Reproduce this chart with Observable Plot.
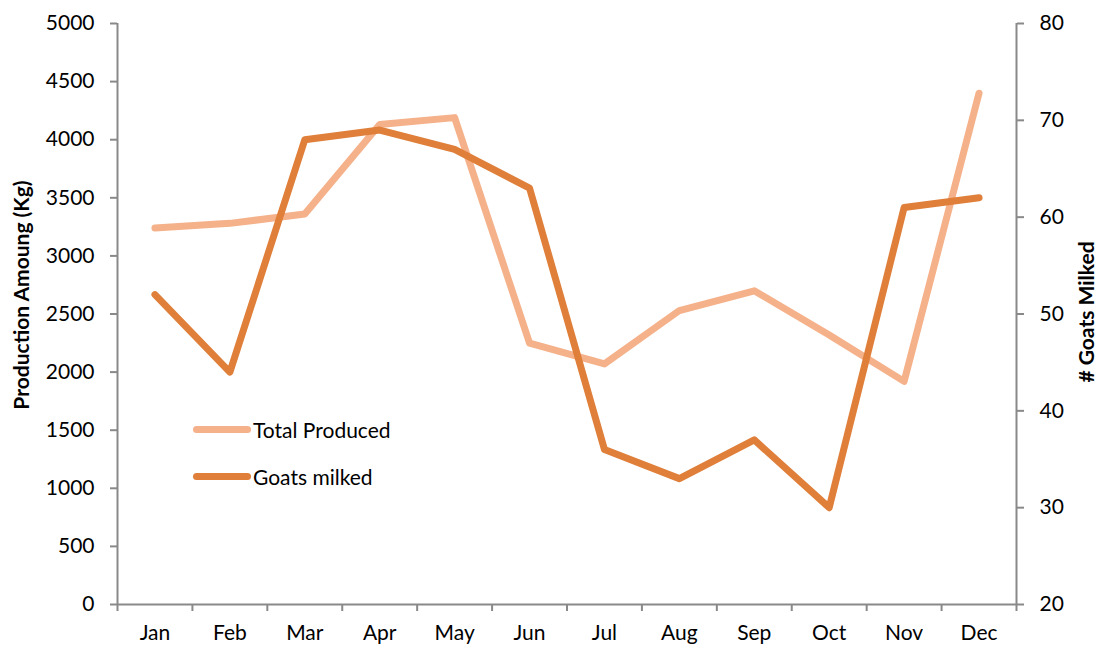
<!DOCTYPE html>
<html><head><meta charset="utf-8">
<script src="https://cdn.jsdelivr.net/npm/d3@7"></script>
<script src="https://cdn.jsdelivr.net/npm/@observablehq/plot@0.6"></script>
<style>
html,body{margin:0;padding:0;background:#fff;}
#wrap{position:relative;width:1098px;height:648px;font-family:Lato,"Open Sans",sans-serif;overflow:hidden;}
#wrap svg [aria-label="y-axis tick"] path,#wrap svg [aria-label="x-axis tick"] path,#wrap svg [aria-label="y-axis tick"],#wrap svg [aria-label="x-axis tick"]{stroke:#898989;stroke-width:2;}
#legend{position:absolute;left:193px;top:406px;font-size:21px;color:#000;}
.item{display:flex;align-items:center;height:47px;}
.sw{width:58px;height:7px;border-radius:4px;margin-right:2px;}
.ytitle{position:absolute;white-space:nowrap;font-weight:bold;font-size:21px;line-height:1;color:#000;transform:translate(-50%,-50%) rotate(-90deg);}
</style></head>
<body><div id="wrap"><div id="legend"></div>
<div class="ytitle" id="ltitle" style="left:20px;top:295px;"></div>
<div class="ytitle" id="rtitle" style="left:1085px;top:312px;"></div>
</div>
<script>
const months = ["Jan","Feb","Mar","Apr","May","Jun","Jul","Aug","Sep","Oct","Nov","Dec"];
const totalProduced = [3240, 3280, 3360, 4130, 4190, 2250, 2070, 2530, 2700, 2320, 1920, 4400];
const goatsMilked = [52, 44, 68, 69, 67, 63, 36, 33, 37, 30, 61, 62];
const leftTicks = [0, 500, 1000, 1500, 2000, 2500, 3000, 3500, 4000, 4500, 5000];
const rightTicks = [20, 30, 40, 50, 60, 70, 80];
const seriesNames = ["Total Produced", "Goats milked"];
const leftTitle = "Production Amoung (Kg)";
const rightTitle = "# Goats Milked";
const colors = ["#F5B18A", "#DF7F3A"];

const leftMax = leftTicks[leftTicks.length - 1];
const rMin = rightTicks[0], rMax = rightTicks[rightTicks.length - 1];
const toLeft = g => (g - rMin) / (rMax - rMin) * leftMax;
const fromLeft = v => Math.round(v / leftMax * (rMax - rMin) + rMin);

const idx = d3.range(months.length);
const xDomain = [-0.5, months.length - 0.5];
const boundaries = d3.range(months.length + 1).map(i => i - 0.5);
const totalData = idx.map(i => ({i, v: totalProduced[i]}));
const goatData = idx.map(i => ({i, v: toLeft(goatsMilked[i])}));

const chart = Plot.plot({
  width: 1098, height: 648,
  marginLeft: 117, marginRight: 82, marginTop: 23, marginBottom: 44,
  style: {fontFamily: "Lato, 'Open Sans', sans-serif", fontSize: "21px", color: "#000", background: "#fff"},
  x: {domain: xDomain},
  y: {domain: [0, leftMax]},
  marks: [
    Plot.axisY(leftTicks, {anchor: "left", tickSize: 7, tickPadding: 16, tickFormat: d => String(d), label: null}),
    Plot.axisY(rightTicks.map(toLeft), {anchor: "right", tickSize: 7, tickPadding: 16, tickFormat: fromLeft, label: null}),
    Plot.axisX(boundaries, {tickSize: 7, tickFormat: () => "", label: null}),
    Plot.axisX(idx, {tickSize: 0, tickPadding: 21, tickFormat: i => months[i], label: null}),
    Plot.ruleY([0], {stroke: "#898989", strokeWidth: 2}),
    Plot.ruleX(xDomain, {stroke: "#898989", strokeWidth: 2}),
    Plot.line(totalData, {x: "i", y: "v", stroke: colors[0], strokeWidth: 7, strokeLinecap: "round", strokeLinejoin: "round"}),
    Plot.line(goatData, {x: "i", y: "v", stroke: colors[1], strokeWidth: 7, strokeLinecap: "round", strokeLinejoin: "round"})
  ]
});
document.getElementById("wrap").prepend(chart);
document.getElementById("ltitle").textContent = leftTitle;
document.getElementById("rtitle").textContent = rightTitle;

const legend = document.getElementById("legend");
seriesNames.forEach((n, k) => {
  const it = document.createElement("div");
  it.className = "item";
  it.innerHTML = `<div class="sw" style="background:${colors[k]}"></div><span>${n}</span>`;
  legend.appendChild(it);
});
</script></body></html>
